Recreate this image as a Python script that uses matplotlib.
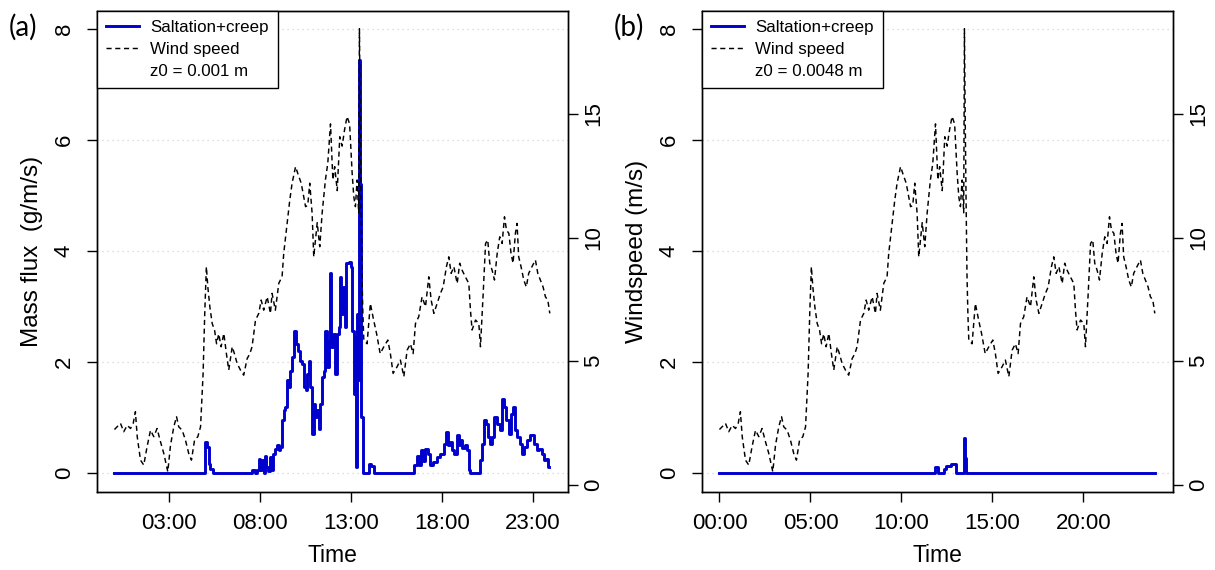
import numpy as np
import matplotlib
matplotlib.use("Agg")
import matplotlib.pyplot as plt
from matplotlib.lines import Line2D

plt.rcParams['font.family'] = ['Liberation Sans', 'DejaVu Sans']

# wind speed (m/s), hours since start of day
wind_h = [0.0, 0.33, 0.51, 0.7, 0.88, 1.03, 1.15, 1.25, 1.43, 1.61, 1.79, 1.98, 2.16, 2.34, 2.53, 2.71,
          2.93, 3.08, 3.26, 3.41, 3.53, 3.72, 3.9, 4.08, 4.23, 4.4, 4.58, 4.73, 4.87, 4.96, 5.05, 5.13,
          5.24, 5.37, 5.5, 5.61, 5.73, 5.86, 6.01, 6.15, 6.28, 6.47, 6.59, 6.74, 6.92, 7.1, 7.29, 7.44,
          7.56, 7.75, 7.93, 8.06, 8.2, 8.39, 8.57, 8.66, 8.84, 9.03, 9.21, 9.3, 9.49, 9.63, 9.76, 9.95,
          10.07, 10.26, 10.5, 10.62, 10.73, 10.86, 10.95, 11.14, 11.28, 11.41, 11.59, 11.72, 11.87, 12.0,
          12.1, 12.24, 12.38, 12.51, 12.64, 12.78, 12.92, 13.06, 13.15, 13.24, 13.33, 13.42, 13.46, 13.5,
          13.55, 13.6, 13.65, 13.7, 13.88, 14.06, 14.24, 14.4, 14.6, 14.8, 15.02, 15.16, 15.31, 15.53,
          15.71, 15.9, 16.08, 16.26, 16.41, 16.54, 16.72, 16.9, 17.09, 17.27, 17.4, 17.55, 17.73, 17.91,
          18.06, 18.24, 18.37, 18.5, 18.65, 18.83, 18.97, 19.1, 19.28, 19.47, 19.56, 19.65, 19.84, 20.02,
          20.11, 20.26, 20.39, 20.51, 20.62, 20.75, 20.88, 21.03, 21.17, 21.3, 21.43, 21.54, 21.67, 21.79,
          21.9, 22.03, 22.12, 22.21, 22.34, 22.49, 22.63, 22.76, 22.94, 23.13, 23.26, 23.4, 23.55, 23.68,
          23.81, 23.92]
wind = [2.23, 2.48, 2.14, 2.4, 2.27, 2.48, 2.95, 1.94, 0.99, 0.79, 1.53, 2.2, 1.94, 2.27, 1.73, 1.26,
        0.52, 1.6, 2.34, 2.75, 2.34, 2.2, 1.8, 1.26, 0.99, 1.8, 1.94, 2.34, 4.5, 6.93, 8.82, 8.0,
        7.2, 6.52, 6.25, 5.7, 6.1, 5.58, 6.12, 5.3, 4.64, 5.58, 5.3, 4.9, 4.64, 4.43, 5.1, 5.3,
        5.58, 6.66, 6.93, 7.47, 7.06, 7.6, 6.93, 7.74, 7.06, 8.15, 8.42, 9.36, 10.6, 11.5, 12.2, 12.87,
        12.6, 12.2, 11.25, 11.3, 12.2, 10.98, 9.22, 10.6, 9.63, 10.98, 12.33, 13.0, 14.6, 12.33,
        12.87, 11.9, 14.08, 13.7, 14.35, 14.9, 14.6, 12.6, 11.65, 11.25, 12.33, 11.0, 18.45, 15.0,
        11.5, 8.5, 6.9, 5.85, 5.7, 7.33, 6.66, 6.12, 5.3, 5.58, 5.85, 5.3, 4.5, 4.77,
        5.04, 4.37, 5.44, 5.7, 5.3, 6.52, 6.8, 7.6, 7.2, 8.41, 7.47, 6.93, 7.33, 7.74,
        8.0, 8.82, 9.22, 8.55, 8.82, 8.14, 8.96, 8.68, 8.41, 8.14, 7.06, 6.26, 6.66, 6.52,
        5.58, 7.74, 9.76, 9.9, 8.96, 8.68, 8.28, 9.36, 10.03, 9.76, 10.84, 10.3, 10.17, 9.36,
        8.96, 10.17, 10.57, 9.22, 8.82, 8.28, 8.0, 8.55, 8.82, 9.09, 8.55, 8.28, 8.0, 7.6,
        7.47, 6.93]

# saltation + creep mass flux (g/m/s), z0 = 0.001 m
flux_a_h = [0.0, 4.95, 5.0, 5.08, 5.17, 5.27, 5.4, 7.56, 7.7, 7.84, 7.93, 8.02, 8.11, 8.2, 8.25, 8.35,
            8.45, 8.57, 8.66, 8.72, 8.84, 8.93, 9.03, 9.12, 9.2, 9.3, 9.39, 9.49, 9.58, 9.67, 9.76, 9.89,
            9.98, 10.07, 10.18, 10.31, 10.4, 10.5, 10.59, 10.68, 10.77, 10.86, 10.95, 11.04, 11.14, 11.23,
            11.32, 11.41, 11.5, 11.59, 11.68, 11.78, 11.84, 11.9, 11.99, 12.1, 12.2, 12.32, 12.38, 12.45,
            12.56, 12.64, 12.71, 12.88, 12.97, 13.06, 13.15, 13.2, 13.27, 13.33, 13.38, 13.44, 13.5, 13.56,
            13.65, 13.98, 14.1, 14.24, 16.45, 16.62, 16.75, 16.85, 16.95, 17.09, 17.2, 17.35, 17.5, 17.7,
            17.9, 18.08, 18.22, 18.31, 18.42, 18.55, 18.68, 18.83, 18.92, 19.01, 19.1, 19.24, 19.38, 19.47,
            19.56, 20.11, 20.2, 20.29, 20.4, 20.51, 20.62, 20.75, 20.88, 21.03, 21.17, 21.3, 21.43, 21.54,
            21.67, 21.79, 21.9, 22.03, 22.12, 22.28, 22.4, 22.52, 22.68, 22.85, 23.04, 23.22, 23.35, 23.5,
            23.6, 23.7, 23.83, 23.9]
flux_a = [0.0, 0.2, 0.55, 0.46, 0.16, 0.07, 0.0, 0.04, 0.0, 0.05, 0.25, 0.05, 0.22, 0.0, 0.3, 0.1,
          0.03, 0.28, 0.05, 0.34, 0.43, 0.49, 0.4, 0.46, 0.94, 1.12, 1.18, 1.66, 1.54, 1.84, 2.08, 2.56,
          2.32, 2.2, 2.02, 1.96, 1.54, 1.48, 1.78, 2.02, 1.54, 0.7, 1.24, 1.0, 1.12, 0.79,
          1.24, 1.72, 1.84, 2.56, 1.9, 2.38, 3.59, 2.26, 2.5, 1.78, 2.5, 2.62, 3.53, 2.86,
          3.35, 2.62, 3.77, 3.8, 3.7, 2.56, 1.42, 2.44, 0.1, 2.86, 1.66, 7.44, 5.2, 1.0,
          0.0, 0.16, 0.12, 0.0, 0.13, 0.3, 0.13, 0.4, 0.2, 0.43, 0.34, 0.13, 0.19, 0.28,
          0.34, 0.52, 0.73, 0.49, 0.55, 0.4, 0.34, 0.67, 0.5, 0.58, 0.45, 0.49, 0.4, 0.04,
          0.0, 0.22, 0.52, 0.94, 0.88, 0.64, 0.52, 0.64, 1.0, 0.88, 0.76, 1.33, 1.18, 0.94,
          0.7, 1.06, 1.18, 0.76, 0.64, 0.52, 0.34, 0.46, 0.58, 0.67, 0.52, 0.4, 0.43, 0.34,
          0.22, 0.25, 0.1, 0.1]

# z0 = 0.0048 m
flux_b_h = [0.0, 11.87, 11.98, 12.36, 12.47, 12.7, 12.97, 13.42, 13.5, 13.57, 23.95]
flux_b = [0.0, 0.1, 0.0, 0.06, 0.12, 0.15, 0.0, 0.63, 0.27, 0.0, 0.0]

panels = [
    dict(tag='(a)', h=flux_a_h, f=flux_a, z0='z0 = 0.001 m', ylab='Mass flux  (g/m/s)',
         ticks=[3, 8, 13, 18, 23], labels=['03:00', '08:00', '13:00', '18:00', '23:00'], left=97),
    dict(tag='(b)', h=flux_b_h, f=flux_b, z0='z0 = 0.0048 m', ylab='Windspeed (m/s)',
         ticks=[0, 5, 10, 15, 20], labels=['00:00', '05:00', '10:00', '15:00', '20:00'], left=702),
]

blue = '#0000CD'
W, H = 1215, 570
fig = plt.figure(figsize=(W / 100, H / 100), dpi=100)

for p in panels:
    ax = fig.add_axes([p['left'] / W, (H - 492) / H, 471 / W, 481 / H])
    ax2 = ax.twinx()

    for g in [0, 2, 4, 6, 8]:
        ax.axhline(g, color='#D3D3D3', lw=0.9, ls=(0, (1, 3)), zorder=0)
    ax.step(p['h'], p['f'], where='post', color=blue, lw=2.1)
    ax2.plot(wind_h, wind, color='black', lw=1.05, dashes=(3.5, 2.5))

    ax.set_xlim(-0.96, 24.92)
    ax.set_ylim(-0.35, 8.32)
    ax2.set_ylim(-0.3, 19.17)

    ax.set_yticks([0, 2, 4, 6, 8])
    ax2.set_yticks([0, 5, 10, 15])
    ax.set_xticks(p['ticks'])
    ax.set_xticklabels(p['labels'])

    for a in (ax, ax2):
        a.tick_params(length=7, width=1, labelsize=16, pad=4)
        for s in a.spines.values():
            s.set_linewidth(1.0)
    ax.tick_params(axis='y', pad=9)
    ax.tick_params(axis='x', pad=8)
    for lab in ax.get_yticklabels():
        lab.set_rotation(90)
        lab.set_va('center')
    for lab in ax2.get_yticklabels():
        lab.set_rotation(90)
        lab.set_va('center')

    ax.set_xlabel('Time', fontsize=16.5, labelpad=7)
    ax.set_ylabel(p['ylab'], fontsize=17.5, labelpad=8)

    handles = [Line2D([], [], color=blue, lw=2.1),
               Line2D([], [], color='black', lw=1.05, dashes=(3.5, 2.5)),
               Line2D([], [], color='none')]
    leg = ax2.legend(handles, ['Saltation+creep', 'Wind speed', p['z0']],
                     loc='upper left', bbox_to_anchor=(0, 1), borderaxespad=0,
                     fontsize=12.2, fancybox=False, edgecolor='black', framealpha=1,
                     handlelength=1.9, handletextpad=0.7, labelspacing=0.4, borderpad=0.55)
    leg.get_frame().set_linewidth(1.0)

    fig.text((p['left'] - 88) / W, 1 - 27 / H, p['tag'], fontsize=20, va='center', ha='left',
             family=['Lato', 'DejaVu Sans'])

fig.savefig('out.png', dpi=100)
